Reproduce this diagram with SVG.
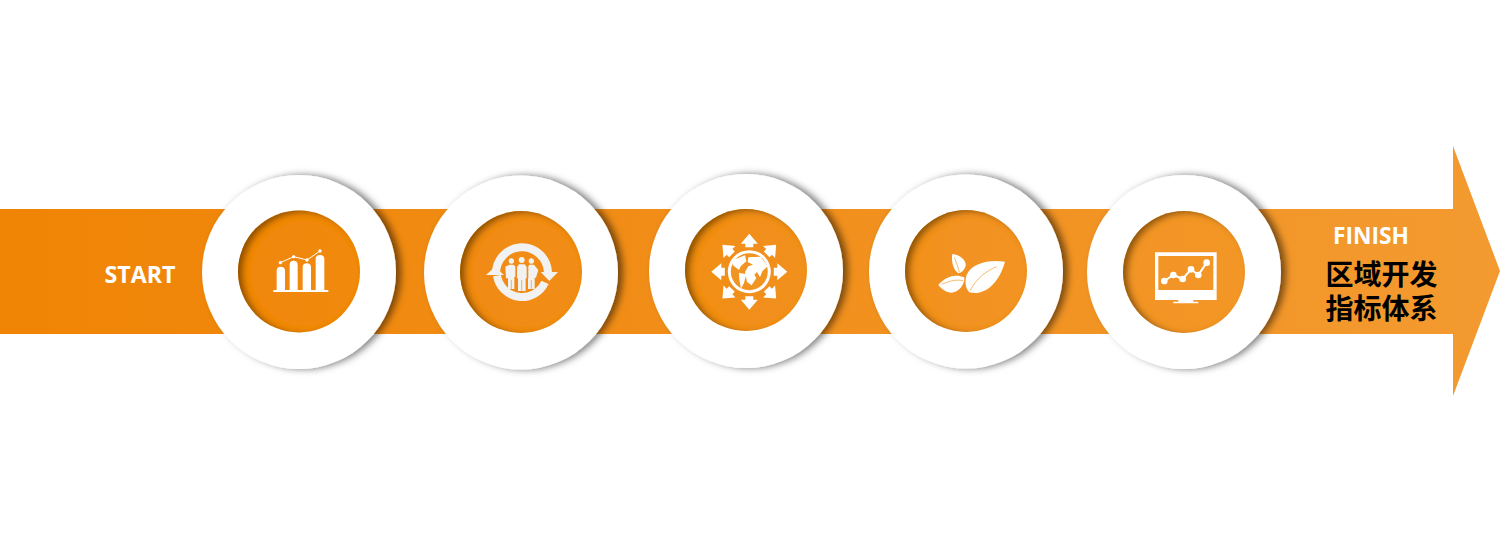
<svg xmlns="http://www.w3.org/2000/svg" width="1501" height="548" viewBox="0 0 1501 548">
<defs>
<linearGradient id="g" gradientUnits="userSpaceOnUse" x1="0" y1="0" x2="1500" y2="0"><stop offset="0" stop-color="#F08404"/><stop offset="1" stop-color="#F39A30"/></linearGradient>
<filter id="drop" x="-25%" y="-25%" width="150%" height="150%"><feDropShadow dx="5" dy="0" stdDeviation="3.5" flood-color="#000" flood-opacity=".5"/></filter>
<filter id="inner" x="-10%" y="-10%" width="120%" height="120%">
<feGaussianBlur in="SourceAlpha" stdDeviation="3.2" result="b"/><feOffset in="b" dx="4.500" dy="2" result="o"/>
<feComposite in="SourceAlpha" in2="o" operator="out" result="e"/>
<feFlood flood-color="#4a2a00" flood-opacity=".75"/><feComposite in2="e" operator="in" result="s"/>
<feMerge><feMergeNode in="SourceGraphic"/><feMergeNode in="s"/></feMerge></filter>
<polygon id="ar" points="0,-38 8.5,-28 4,-28 4,-24.500 -4,-24.500 -4,-28 -8.5,-28" fill="#fff"/>
</defs>
<style>
.ring{fill:#fff;filter:url(#drop)}
.core{fill:url(#g);filter:url(#inner)}
.w{fill:#fff}
.t{font-family:"Open Sans","Liberation Sans",sans-serif;font-weight:700;fill:#fff;font-size:23px}
.c{font-family:"Noto Sans CJK SC",sans-serif;font-weight:700;fill:#000;font-size:28px}
</style>
<g id="connectors"><path id="band" d="M0,209H1453V146L1500,271L1453,396V334H0Z" fill="url(#g)"/></g>
<g id="node-start"><circle class="ring" cx="299" cy="272" r="97"/><circle class="core" cx="299" cy="271.5" r="61"/>
<g transform="translate(265,240) scale(.3333)"><path class="w" d="M35,150V92Q35,80 47,80Q60,80 60,92V150ZM74,150V74Q74,62 86,62Q98,62 98,74V150ZM113,150V82Q113,70 125,70Q138,70 138,82V150ZM152,150V57Q152,45 165,45Q178,45 178,57V150ZM25,150H190V156H25Z"/><path d="M46,68L86,50L126,60L165,33" fill="none" stroke="#fff" stroke-width="3"/><circle class="w" cx="46" cy="68" r="5"/><circle class="w" cx="86" cy="50" r="5"/><circle class="w" cx="126" cy="60" r="5"/><circle class="w" cx="165" cy="33" r="5"/></g>
<text class="t" x="140" y="283" text-anchor="middle" textLength="71" lengthAdjust="spacingAndGlyphs">START</text></g>
<g id="node-people"><circle class="ring" cx="521" cy="272.500" r="97"/><circle class="core" cx="521" cy="272" r="61"/>
<g transform="translate(470,225) scale(.3333)"><path d="M78,148A76,76 0 0 1 234,142" fill="none" stroke="#f2f2f2" stroke-width="24"/><path d="M225,172A76,76 0 0 1 81,152" fill="none" stroke="#f2f2f2" stroke-width="24"/><polygon points="48,150 75,125 102,150" fill="#f2f2f2"/><polygon points="212,141 264,141 238,168" fill="#f2f2f2"/>
<circle cx="124" cy="108" r="8" fill="#f2f2f2"/><circle cx="155" cy="105" r="9" fill="#f2f2f2"/><circle cx="184" cy="108" r="8" fill="#f2f2f2"/>
<path d="M106,125L118,119H130L136,124V156H133V192H114V160H108ZM141,126L147,118H164L170,126V160H167V198H144V160H141ZM175,124L178,119H192L205,135L198,158H194V192H174V160H175Z" fill="#f2f2f2"/>
<path d="M124,165V192M155,165V198M184,165V192" stroke="#F29220" stroke-width="2"/></g></g>
<g id="node-globe"><circle class="ring" cx="746" cy="271" r="97"/><circle class="core" cx="746" cy="270" r="61"/>
<g transform="translate(749.300,271.700)"><use href="#ar"/><use href="#ar" transform="rotate(45)"/><use href="#ar" transform="rotate(90)"/><use href="#ar" transform="rotate(135)"/><use href="#ar" transform="rotate(180)"/><use href="#ar" transform="rotate(225)"/><use href="#ar" transform="rotate(270)"/><use href="#ar" transform="rotate(315)"/>
<circle class="w" r="21.500"/><circle r="18.500" fill="#F29422"/></g>
<g transform="translate(725,248) scale(.3333)"><path class="w" d="M26,35L60,22L64,40L47,55L42,66L22,50ZM42,74L64,79L57,105L48,122L43,95ZM70,28L107,26L128,55L112,70L105,88L96,72L88,80L94,90L80,112L66,102L60,72L70,55L84,50L68,42Z"/></g></g>
<g id="node-leaf"><circle class="ring" cx="966" cy="271.500" r="97"/><circle class="core" cx="966" cy="271" r="61"/>
<g transform="translate(925,240) scale(.3333)"><path class="w" d="M240,65C190,58 140,70 125,105C118,125 122,145 133,157C180,168 222,130 240,65ZM82,42C110,45 125,65 122,78C118,90 110,98 100,100C85,90 78,65 82,42ZM40,135C60,110 90,100 118,112C120,130 105,155 80,158C65,158 50,148 40,135Z"/><path d="M135,152C155,115 180,95 215,80M50,133C75,122 95,118 115,122M88,52C95,70 100,85 103,97" fill="none" stroke="#F29628" stroke-width="2"/></g></g>
<g id="node-monitor"><circle class="ring" cx="1184" cy="272" r="97"/><circle class="core" cx="1184" cy="272" r="61"/>
<g transform="translate(1145,240) scale(.3333)"><path class="w" fill-rule="evenodd" d="M30,37H215V180H145V185H160V190H85V185H100V180H30ZM40,48V150H205V48Z"/><path d="M58,123L85,105L113,117L138,88L160,105L185,68" fill="none" stroke="#fff" stroke-width="6"/><circle class="w" cx="58" cy="123" r="10"/><circle class="w" cx="85" cy="105" r="10"/><circle class="w" cx="113" cy="117" r="10"/><circle class="w" cx="138" cy="88" r="10"/><circle class="w" cx="160" cy="105" r="10"/><circle class="w" cx="185" cy="68" r="10"/></g></g>
<g id="node-finish"><text class="t" x="1371" y="244" text-anchor="middle" textLength="76" lengthAdjust="spacingAndGlyphs">FINISH</text>
<text class="c" text-anchor="middle"><tspan x="1381.500" y="285">区域开发</tspan><tspan x="1381.500" y="319">指标体系</tspan></text></g>
</svg>
